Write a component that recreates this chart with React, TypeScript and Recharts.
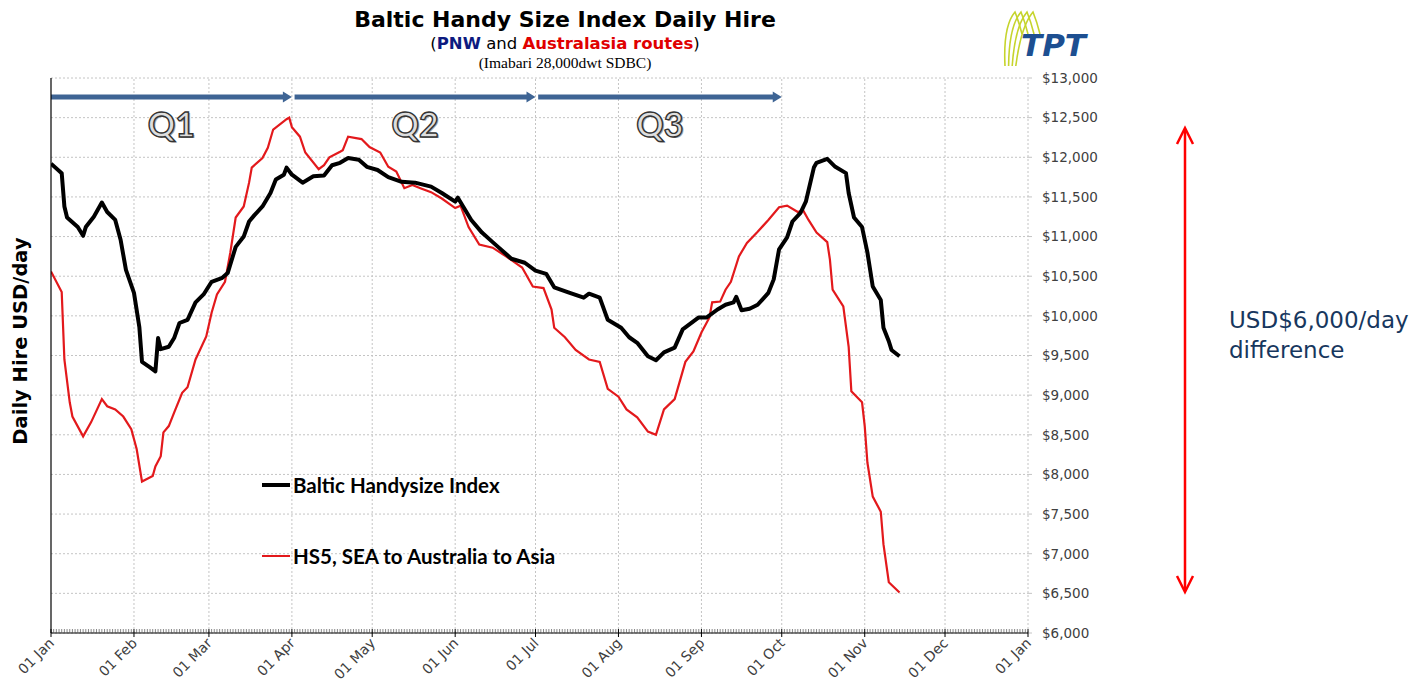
import { CartesianGrid, Line, LineChart, ReferenceLine, XAxis, YAxis } from "recharts";

// day of year (0 = 01 Jan) for the month ticks
const monthDays = [0, 31, 59, 90, 120, 151, 181, 212, 243, 273, 304, 334, 365];
const monthLabels = ["01 Jan", "01 Feb", "01 Mar", "01 Apr", "01 May", "01 Jun", "01 Jul", "01 Aug", "01 Sep", "01 Oct", "01 Nov", "01 Dec", "01 Jan"];
const yTicks = [6000, 6500, 7000, 7500, 8000, 8500, 9000, 9500, 10000, 10500, 11000, 11500, 12000, 12500, 13000];

const bhsiDays = [0, 4, 5, 6, 10, 12, 13, 16, 19, 21, 24, 26, 28, 31, 33, 34, 37, 39, 40, 41, 44, 46, 48, 51, 54, 57, 60, 64, 66, 69, 72, 74, 76, 79, 82, 84, 87, 88, 90, 94, 98, 102, 105, 108, 111, 115, 118, 122, 126, 131, 136, 142, 146, 151, 152, 157, 161, 165, 167, 172, 177, 181, 185, 188, 193, 199, 201, 205, 208, 213, 216, 219, 223, 226, 229, 233, 236, 240, 242, 245, 249, 252, 255, 256, 258, 261, 264, 268, 270, 272, 275, 277, 280, 282, 285, 286, 290, 293, 297, 298, 300, 303, 305, 307, 310, 311, 313, 314, 317];
const bhsiValues = [11920, 11800, 11380, 11240, 11120, 11010, 11120, 11250, 11430, 11310, 11210, 10960, 10580, 10290, 9860, 9420, 9350, 9300, 9720, 9580, 9610, 9720, 9910, 9950, 10170, 10270, 10430, 10480, 10540, 10870, 11000, 11190, 11270, 11380, 11550, 11720, 11780, 11870, 11780, 11680, 11760, 11770, 11900, 11930, 11990, 11970, 11880, 11840, 11750, 11690, 11680, 11630, 11550, 11440, 11490, 11210, 11050, 10930, 10870, 10720, 10670, 10570, 10530, 10360, 10300, 10230, 10280, 10230, 9950, 9850, 9730, 9660, 9490, 9440, 9540, 9600, 9830, 9930, 9980, 9980, 10080, 10140, 10170, 10240, 10070, 10090, 10140, 10290, 10460, 10840, 10990, 11190, 11300, 11440, 11870, 11930, 11980, 11880, 11800, 11550, 11240, 11120, 10800, 10370, 10200, 9850, 9680, 9570, 9490];

const hs5Days = [0, 4, 5, 7, 8, 12, 15, 19, 21, 24, 27, 30, 32, 34, 38, 39, 41, 42, 44, 46, 49, 51, 54, 58, 60, 62, 65, 67, 69, 72, 74, 75, 79, 81, 83, 88, 89, 90, 93, 95, 100, 102, 104, 108, 109, 111, 116, 119, 123, 126, 129, 132, 135, 138, 142, 146, 151, 153, 156, 160, 165, 170, 176, 180, 184, 187, 188, 192, 196, 201, 205, 208, 212, 215, 219, 223, 226, 229, 233, 237, 240, 243, 246, 247, 250, 252, 254, 257, 260, 264, 268, 272, 275, 279, 281, 283, 286, 290, 291, 292, 296, 298, 299, 303, 304, 305, 307, 310, 311, 313, 317];
const hs5Values = [10560, 10300, 9450, 8910, 8730, 8480, 8660, 8950, 8860, 8820, 8730, 8570, 8320, 7910, 7980, 8100, 8230, 8530, 8610, 8780, 9030, 9100, 9450, 9740, 10040, 10270, 10430, 10800, 11240, 11380, 11680, 11870, 11990, 12120, 12350, 12480, 12500, 12380, 12260, 12060, 11850, 11900, 12000, 12070, 12090, 12260, 12230, 12130, 12060, 11880, 11820, 11610, 11650, 11610, 11560, 11480, 11360, 11390, 11120, 10900, 10860, 10750, 10610, 10370, 10350, 10080, 9850, 9730, 9570, 9450, 9420, 9080, 8980, 8820, 8720, 8540, 8500, 8820, 8950, 9420, 9550, 9790, 9980, 10170, 10180, 10330, 10430, 10750, 10920, 11060, 11210, 11370, 11390, 11310, 11330, 11210, 11050, 10930, 10710, 10330, 10120, 9610, 9050, 8910, 8610, 8150, 7720, 7530, 7120, 6640, 6510];

const quarterNames = ["Q1", "Q2", "Q3"];
const quarterStarts = [0, 91, 182];
const quarterEnds = [90, 181, 273];
const quarterLevel = 12760;

const seriesNames = ["Baltic Handysize Index", "HS5, SEA to Australia to Asia"];

const bhsi = bhsiDays.map((d, i) => ({ d, v: bhsiValues[i] }));
const hs5 = hs5Days.map((d, i) => ({ d, v: hs5Values[i] }));
const everyDay = Array.from({ length: 366 }, (_, i) => i);

const DayTick = (props: any) => {
  const { x, y, payload } = props;
  const idx = monthDays.indexOf(payload.value);
  if (idx < 0) {
    return <line x1={x} x2={x} y1={y - 4} y2={y} stroke="#555" strokeWidth={0.7} />;
  }
  const tx = x + 4;
  const ty = y + 11;
  return (
    <g>
      <line x1={x} x2={x} y1={y - 4} y2={y + 4} stroke="#000" strokeWidth={1} />
      <text
        x={tx}
        y={ty}
        transform={`rotate(-45 ${tx} ${ty})`}
        textAnchor="end"
        fontSize={14}
        fill="#404040"
        fontFamily="DejaVu Sans"
      >
        {monthLabels[idx]}
      </text>
    </g>
  );
};

const quarterArrow = (name: string) => (p: any) => {
  const { x1, y1, x2 } = p;
  const mid = (x1 + x2) / 2;
  return (
    <g>
      <line x1={x1} y1={y1} x2={x2 - 8} y2={y1} stroke="#3e6494" strokeWidth={5} />
      <polygon points={`${x2 - 9},${y1 - 5.5} ${x2},${y1} ${x2 - 9},${y1 + 5.5}`} fill="#3e6494" />
      <text x={mid + 1.5} y={y1 + 41} textAnchor="middle" fontSize={34} fontWeight={700} fontFamily="Lato" fill="#a8a8a8">
        {name}
      </text>
      <text
        x={mid}
        y={y1 + 39.5}
        textAnchor="middle"
        fontSize={34}
        fontWeight={700}
        fontFamily="Lato"
        fill="#dedede"
        stroke="#333"
        strokeWidth={1.4}
      >
        {name}
      </text>
    </g>
  );
};

export default function App() {
  return (
    <div style={{ position: "absolute", left: 0, top: 0, width: 1427, height: 682, background: "#fff" }}>
      <LineChart width={1427} height={682} margin={{ top: 78, right: 319, bottom: 4, left: 50 }}>
        <CartesianGrid yAxisId="right" vertical={false} stroke="#c4c4c4" strokeDasharray="2 2" />
        <XAxis
          dataKey="d"
          type="number"
          domain={[0, 365]}
          ticks={everyDay}
          interval={0}
          tickSize={0}
          tickMargin={0}
          tickLine={false}
          tick={DayTick}
          height={45}
          axisLine={{ stroke: "#000", strokeWidth: 1.2 }}
          allowDataOverflow
        />
        <YAxis
          yAxisId="left"
          orientation="left"
          width={1}
          domain={[6000, 13000]}
          ticks={yTicks}
          tickFormatter={() => ""}
          tickSize={5}
          tickLine={{ stroke: "#000" }}
          axisLine={{ stroke: "#000", strokeWidth: 1.2 }}
        />
        <YAxis
          yAxisId="right"
          orientation="right"
          width={80}
          domain={[6000, 13000]}
          ticks={yTicks}
          tickFormatter={(v: number) => "$" + v.toLocaleString("en-US")}
          tickSize={4}
          tickMargin={10}
          tickLine={{ stroke: "#c4c4c4" }}
          axisLine={false}
          tick={{ fontSize: 13.5, fill: "#404040", fontFamily: "DejaVu Sans" }}
        />
        {monthDays.slice(1).map((d) => (
          <ReferenceLine key={d} x={d} yAxisId="right" stroke="#c4c4c4" strokeDasharray="2 2" />
        ))}
        {quarterNames.map((q, i) => (
          <ReferenceLine
            key={q}
            yAxisId="right"
            segment={[
              { x: quarterStarts[i], y: quarterLevel },
              { x: quarterEnds[i], y: quarterLevel },
            ]}
            shape={quarterArrow(q)}
          />
        ))}
        <Line
          yAxisId="right"
          data={hs5}
          dataKey="v"
          name={seriesNames[1]}
          type="linear"
          stroke="#e3191c"
          strokeWidth={2.2}
          dot={false}
          isAnimationActive={false}
        />
        <Line
          yAxisId="right"
          data={bhsi}
          dataKey="v"
          name={seriesNames[0]}
          type="linear"
          stroke="#000"
          strokeWidth={4}
          strokeLinejoin="round"
          dot={false}
          isAnimationActive={false}
        />
      </LineChart>

      {/* title block */}
      <div style={{ position: "absolute", left: 265, width: 600, top: 6, textAlign: "center", fontFamily: "DejaVu Sans" }}>
        <div style={{ fontSize: 22, fontWeight: 700, color: "#000", lineHeight: "28px" }}>Baltic Handy Size Index Daily Hire</div>
        <div style={{ fontSize: 16.5, color: "#000", lineHeight: "20px" }}>
          (<b style={{ color: "#0d1a80" }}>PNW</b> and <b style={{ color: "#e00000" }}>Australasia routes</b>)
        </div>
        <div style={{ fontSize: 15.5, color: "#000", lineHeight: "18px", fontFamily: "Liberation Serif" }}>(Imabari 28,000dwt SDBC)</div>
      </div>

      {/* y axis title */}
      <div
        style={{
          position: "absolute",
          left: 20,
          top: 341,
          transform: "translate(-50%, -50%) rotate(-90deg)",
          whiteSpace: "nowrap",
          fontFamily: "DejaVu Sans",
          fontWeight: 700,
          fontSize: 19.5,
          color: "#000",
        }}
      >
        Daily Hire USD/day
      </div>

      {/* legend */}
      <div style={{ position: "absolute", left: 262, top: 471, fontFamily: "Lato", fontWeight: 700, fontSize: 20.5, color: "#000" }}>
        <div style={{ display: "flex", alignItems: "center", height: 28 }}>
          <span style={{ display: "inline-block", width: 28, height: 4, background: "#000", marginRight: 3 }} />
          {seriesNames[0]}
        </div>
        <div style={{ display: "flex", alignItems: "center", height: 28, marginTop: 43 }}>
          <span style={{ display: "inline-block", width: 28, height: 2.5, background: "#e3191c", marginRight: 3 }} />
          {seriesNames[1]}
        </div>
      </div>

      {/* logo */}
      <svg style={{ position: "absolute", left: 995, top: 4 }} width={110} height={66}>
        {[0, 6, 12, 18].map((o) => (
          <path
            key={o}
            d={`M ${10 + o * 0.6} 62 Q ${8 + o} 22 ${20 + o} 8 Q ${24 + o} 18 ${27 + o} 30`}
            fill="none"
            stroke="#c6d42c"
            strokeWidth={1.6}
          />
        ))}
        <text x={26} y={52} fontFamily="DejaVu Sans" fontWeight={700} fontStyle="italic" fontSize={31} fill="#1d4f91">
          TPT
        </text>
      </svg>

      {/* difference annotation */}
      <svg style={{ position: "absolute", left: 1170, top: 120 }} width={30} height={480}>
        <line x1={15} y1={9} x2={15} y2={471} stroke="#ff0000" strokeWidth={2.5} />
        <polyline points="7,24 15,8 23,24" fill="none" stroke="#ff0000" strokeWidth={2.5} />
        <polyline points="7,456 15,472 23,456" fill="none" stroke="#ff0000" strokeWidth={2.5} />
      </svg>
      <div style={{ position: "absolute", left: 1229, top: 305, fontFamily: "DejaVu Sans", fontSize: 23, lineHeight: "30px", color: "#17375e" }}>
        USD$6,000/day
        <br />
        difference
      </div>
    </div>
  );
}
